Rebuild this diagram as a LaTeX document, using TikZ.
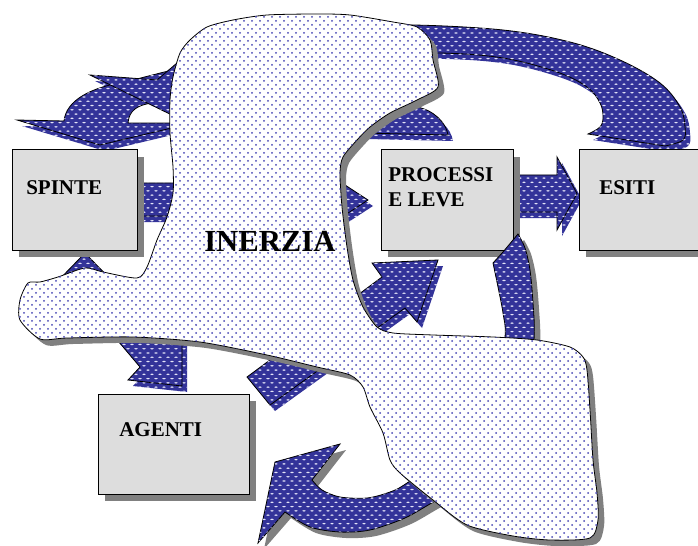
\documentclass[tikz,border=0pt]{standalone}
\usepackage{fontspec}
\setmainfont{Liberation Serif}
\usetikzlibrary{patterns,shadows}
\definecolor{arrowblue}{RGB}{51,51,153}
\definecolor{arrowdot}{RGB}{228,228,248}
\definecolor{blobdot}{RGB}{70,70,180}
\definecolor{shadowgray}{RGB}{128,128,128}
\definecolor{boxgray}{RGB}{221,221,221}

\pgfdeclarepatternformonly{arrowdots}{\pgfqpoint{-2pt}{-1pt}}{\pgfqpoint{8pt}{7.4pt}}{\pgfqpoint{6pt}{6.4pt}}{%
  \pgfpathellipse{\pgfqpoint{0pt}{0pt}}{\pgfqpoint{1.4pt}{0pt}}{\pgfqpoint{0pt}{0.6pt}}%
  \pgfpathellipse{\pgfqpoint{3pt}{3.2pt}}{\pgfqpoint{1.4pt}{0pt}}{\pgfqpoint{0pt}{0.6pt}}%
  \pgfusepath{fill}}
\pgfdeclarepatternformonly{blobdots}{\pgfqpoint{-1pt}{-1pt}}{\pgfqpoint{7pt}{7pt}}{\pgfqpoint{6pt}{6pt}}{%
  \pgfpathcircle{\pgfqpoint{0pt}{0pt}}{0.75pt}%
  \pgfpathcircle{\pgfqpoint{3pt}{3pt}}{0.75pt}%
  \pgfusepath{fill}}

% shapes (pixel coordinates, y downwards)
\newcommand\shpT{plot[smooth, tension=0.6] coordinates {(375,28) (413,25) (503,30) (570,42) (620,60) (660,83) (680,107) (685,127) (683,140) (665,146)} -- plot[smooth, tension=0.6] coordinates {(588,134) (600,127) (603,117) (600,103) (587,87) (557,72) (503,58) (440,53) (375,55)} -- cycle}
\newcommand\shpP{(395,106) -- (417,107) .. controls (433,110) and (446,122) .. (448,135) -- (362,133) -- cycle}
\newcommand\shpB{(17,120) -- (64,121) .. controls (66,100) and (92,87) .. (125,82) -- (180,68) -- (180,126) -- (100,145) -- cycle}
\newcommand\shpA{(90,75) -- (157,80) -- (177,63) -- (182,59) -- (182,120) -- cycle}
\newcommand\shpS{(130,183) -- (322,183) -- (322,170) -- (368,200) -- (322,230) -- (322,216) -- (130,216) -- cycle}
\newcommand\shpE{(505,175) -- (557,175) -- (557,157) -- (577,193.5) -- (557,230) -- (557,212) -- (505,212) -- cycle}
\newcommand\shpU{(85,253) -- (118,287) -- (100,287) -- (100,300) -- (70,300) -- (70,287) -- (52,287) -- cycle}
\newcommand\shpD{(113,335) -- (140,367) -- (128,380) -- (182,386) -- (182,335) -- cycle}
\newcommand\shpG{(247,377) -- (382,277) -- (372,263) -- (438,260) -- (417,322) -- (405,308) -- (270,405) -- cycle}
\newcommand\shpL{plot[smooth, tension=0.5] coordinates {(518,234) (525,248) (530,270) (533,303) (534,340) (526,420) (487,474) (437,500) (405,518) (370,530) (340,532) (310,527) (285,512)} -- (258,543) -- (275,462) -- (340,444) -- plot[smooth, tension=0.5] coordinates {(312,480) (322,490) (340,497) (367,498) (390,492) (407,483) (460,445) (495,390) (505,337) (503,313) (498,287) (493,263)} -- (503,252) -- cycle}
\newcommand\shpBlob{plot[smooth cycle, tension=0.45] coordinates {(180,53) (190,40) (207,27) (233,20) (267,15) (317,14) (350,15) (393,22) (417,27) (430,40) (433,60) (438,87) (417,100) (390,113) (370,127) (357,140) (343,157) (340,173) (342,207) (347,247) (353,280) (363,307) (377,327) (393,333) (433,335) (493,337) (537,340) (570,347) (583,357) (587,370) (590,410) (593,460) (597,493) (598,520) (590,538) (550,540) (513,536) (467,525) (433,500) (400,473) (390,460) (383,433) (370,407) (363,387) (350,375) (317,367) (267,355) (200,342) (133,337) (67,338) (40,339) (20,320) (20,300) (28,283) (40,282) (58,277) (85,268) (103,272) (137,278) (147,267) (157,240) (167,217) (173,193) (173,167) (170,133) (170,100) (173,77)}}

\tikzset{
  arrowfill/.style={fill=arrowblue, postaction={pattern=arrowdots, pattern color=arrowdot}},
  arrowshape/.style={arrowfill, draw=black, line width=0.6pt, line join=miter},
  blueshadow/.style={arrowfill, shift={(5,6)}},
  grayshadow/.style={fill=shadowgray, shift={(6,6)}},
  blobstyle/.style={fill=white, postaction={pattern=blobdots, pattern color=blobdot}, draw=black, line width=0.6pt},
  box/.style={rectangle, draw=black, line width=0.75pt, fill=boxgray, inner sep=0pt, minimum height=75pt,
    drop shadow={shadow xshift=5.25pt, shadow yshift=-5.25pt, fill=shadowgray, opacity=1}},
  lbl/.style={anchor=base west, inner sep=0pt, font=\fontsize{15.75pt}{18pt}\selectfont\bfseries},
  biglbl/.style={anchor=base west, inner sep=0pt, font=\fontsize{23pt}{26pt}\selectfont\bfseries},
}

\begin{document}
\begin{tikzpicture}[x=0.75pt, y=-0.75pt]
\useasboundingbox (0,0) rectangle (698,545);
\fill[white] (0,0) rectangle (698,545);
\clip (0,0) rectangle (698,545);

% top arc arrow and piece near PROCESSI
\fill[blueshadow] \shpT;
\draw[arrowshape] \shpT;
\fill[blueshadow] \shpP;
\draw[arrowshape] \shpP;

% top-left arrows
\fill[blueshadow] \shpB;
\fill[blueshadow] \shpA;
\draw[arrowshape] \shpB;
\fill[white] (128,123) .. controls (129,110) and (138,105) .. (152,103) -- (180,100) -- (180,123) -- cycle;
\draw[line width=0.6pt] (175,123) -- (128,123) .. controls (129,110) and (138,105) .. (152,103);
\draw[arrowshape] \shpA;

% straight arrows
\fill[blueshadow] \shpS;
\draw[arrowshape] \shpS;
\fill[blueshadow] \shpE;
\draw[arrowshape] \shpE;
\fill[blueshadow] \shpU;
\draw[arrowshape] \shpU;
\fill[blueshadow] \shpD;
\draw[arrowshape] \shpD;
\fill[blueshadow] \shpG;
\draw[arrowshape] \shpG;

% boxes
\node[box, minimum width=93.75pt] (spinte) at (74.5,200) {};
\node[box, minimum width=99pt] (processi) at (447,200) {};
\node[box, minimum width=112.5pt] (esiti) at (654,200) {};
\node[box, minimum width=113.25pt] (agenti) at (173.5,444) {};

% loop arrow
\fill[grayshadow] \shpL;
\draw[arrowshape] \shpL;

% inertia blob
\fill[grayshadow] \shpBlob;
\draw[blobstyle] \shpBlob;

% labels
\node[lbl] (tspinte) at (26,195) {SPINTE};
\node[lbl] (tproc1) at (388,181) {PROCESSI};
\node[lbl] (tproc2) at (388,206) {E LEVE};
\node[lbl] (tesiti) at (599,195) {ESITI};
\node[lbl] (tagenti) at (119,436) {AGENTI};
\node[biglbl] (tinerzia) at (204,251) {INERZIA};
\end{tikzpicture}
\end{document}
